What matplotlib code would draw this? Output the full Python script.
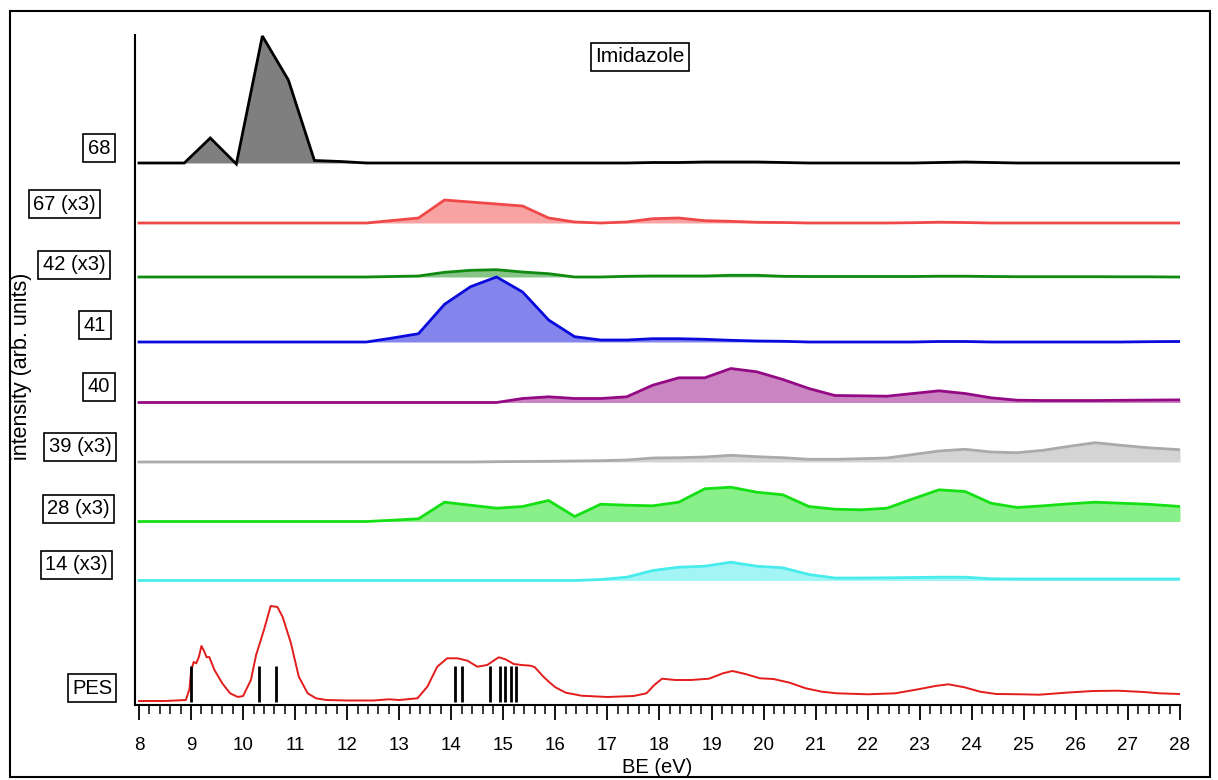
import numpy as np
import matplotlib
matplotlib.use("Agg")
import matplotlib.pyplot as plt
from matplotlib.patches import Rectangle
from matplotlib.ticker import MultipleLocator

plt.rcParams['font.family'] = ['Liberation Sans', 'DejaVu Sans']

# energy grid of the mass-selected yields (eV)
energy = [8.0, 8.87, 9.37, 9.87, 10.37, 10.87, 11.37, 11.87, 12.37, 12.87,
          13.37, 13.87, 14.37, 14.87, 15.37, 15.87, 16.37, 16.87, 17.37, 17.87,
          18.37, 18.87, 19.37, 19.87, 20.37, 20.87, 21.37, 21.87, 22.37, 22.87,
          23.37, 23.87, 24.37, 24.87, 25.37, 25.87, 26.37, 26.87, 27.37, 27.87, 28.0]

y68 = [0, 0, 25, -1, 127, 83, 2.5, 1.5, 0, 0, 0, 0, 0, 0, 0, 0, 0, 0, 0, 0.5,
       0.5, 1, 1, 1, 0.5, 0, 0, 0, 0, 0, 0.5, 1, 0.5, 0, 0, 0, 0, 0, 0, 0, 0]
y67 = [0, 0, 0, 0, 0, 0, 0, 0, 0, 2.5, 5, 23, 21, 19, 17, 5, 1, 0, 1, 4.3,
       5, 2.3, 1.7, 0.7, 0.5, 0, 0, 0, 0, 0.3, 0.8, 0.5, 0, 0, 0, 0, 0, 0, 0, 0, 0]
y42 = [0, 0, 0, 0, 0, 0, 0, 0, 0, 0.5, 1, 4.7, 6.7, 7.3, 5, 3.3, 0, 0, 0.7, 1,
       1, 1, 1.7, 1.7, 0.7, 0.5, 0.5, 0.5, 0.5, 0.5, 0.8, 0.8, 0.5, 0.3, 0.3, 0.3,
       0.3, 0.2, 0.2, 0, 0]
y41 = [0, 0, 0, 0, 0, 0, 0, 0, 0, 4, 8.3, 37.7, 55.3, 65, 50, 22, 5.3, 2, 2, 3.3,
       3.3, 2.7, 1.7, 1, 0.7, 0, 0, 0, 0, 0, 0.5, 0.5, 0, 0, 0, 0, 0, 0, 0.3, 0.5, 0.5]
y40 = [0, 0, 0, 0, 0, 0, 0, 0, 0, 0, 0, 0, 0, 0, 4, 5.7, 4, 4, 5.7, 17.3,
       24.7, 24.7, 34, 30.7, 23, 14, 7, 6.7, 6.3, 9, 11.7, 9, 4.7, 2.3, 2, 2,
       2, 2.2, 2.4, 2.6, 2.6]
y39 = [0, 0, 0, 0, 0, 0, 0, 0, 0, 0, 0, 0, 0, 0.3, 0.5, 0.7, 1, 1.3, 2, 4,
       4.3, 5, 6.7, 5.3, 4.3, 2.7, 2.7, 3.3, 4, 7.5, 11, 12.7, 10, 9.3, 11.7, 15.7,
       19.3, 16.7, 14.3, 12.7, 12.3]
y28 = [0, 0, 0, 0, 0, 0, 0, 0, 0, 1.3, 2.7, 19.3, 16.3, 13.3, 15, 21, 5, 17.3, 16.3, 15.7,
       19.3, 32.7, 34.3, 29.3, 26.7, 15, 12.3, 11.7, 13.3, 22.7, 31.7, 30, 18.3, 14, 15.7, 17.7,
       19.3, 18.3, 17.3, 15.5, 15]
y14 = [0, 0, 0, 0, 0, 0, 0, 0, 0, 0, 0, 0, 0, 0, 0, 0, 0, 1, 3.3, 10,
       13.3, 14.3, 18.3, 14.3, 12.7, 6, 2.5, 2.5, 2.7, 3, 3.3, 3.3, 1.7, 1.5, 1.5, 1.5,
       1.5, 1.5, 1.5, 1.5, 1.5]

# photoelectron spectrum
pes_e = [8.0, 8.5, 8.9, 8.97, 9.0, 9.05, 9.1, 9.15, 9.2, 9.25, 9.3, 9.35, 9.45, 9.6,
         9.75, 9.9, 10.0, 10.15, 10.25, 10.4, 10.53, 10.66, 10.76, 10.92, 11.07, 11.24,
         11.4, 11.6, 12.0, 12.5, 12.8, 13.0, 13.35, 13.54, 13.73, 13.92, 14.12, 14.31,
         14.5, 14.69, 14.91, 15.04, 15.2, 15.35, 15.52, 15.6, 15.77, 15.9, 16.0, 16.2,
         16.5, 17.0, 17.5, 17.75, 17.9, 18.05, 18.3, 18.6, 18.95, 19.22, 19.4, 19.65,
         19.93, 20.19, 20.5, 20.81, 21.12, 21.4, 22.0, 22.53, 22.97, 23.3, 23.55, 23.86,
         24.16, 24.47, 24.96, 25.3, 25.8, 26.33, 26.81, 27.3, 27.6, 28.0]
pes_i = [0, 0, 1, 12, 30, 39, 37.7, 44, 55, 50, 43.7, 44, 31, 17.7,
         7.7, 4, 5, 21, 46, 71, 95, 94, 84, 57.7, 24.3, 7.7,
         2.7, 1, 0.5, 0.5, 1.7, 1, 2.7, 14.3, 34.3, 42.7, 42.7, 40.3,
         34.3, 36, 43.7, 41.7, 37, 36, 35.3, 34, 24.3, 18, 13.7, 8.3,
         5.3, 4, 5, 7.7, 16, 22.3, 21, 21, 22.3, 27.7, 30, 27,
         22.7, 22, 18.3, 12.7, 9.3, 7.7, 6.7, 7.7, 11.7, 15, 16.7, 13.7,
         9.3, 7, 6.7, 6.3, 8.3, 10, 10.3, 9, 7.7, 7]
sticks = [9.0, 10.31, 10.63, 14.07, 14.21, 14.74, 14.93, 15.04, 15.15, 15.25]

labels = ['68', '67 (x3)', '42 (x3)', '41', '40', '39 (x3)', '28 (x3)', '14 (x3)']
series = [y68, y67, y42, y41, y40, y39, y28, y14]
colors = ['#000000', '#f04848', '#108a10', '#0a0add', '#940a84', '#aaaaaa', '#14e014', '#48ecec']
offsets = [542, 482, 428, 363, 302.5, 243, 183.5, 124.5]

W, H = 1218, 780
fig = plt.figure(figsize=(W / 100, H / 100), dpi=100)
ax = fig.add_axes([134.5 / W, 75 / H, 1045.5 / W, 670 / H])

x = np.array(energy)
for vals, col, off in zip(series, colors, offsets):
    v = np.array(vals) + off
    ax.fill_between(x, off, v, color=col, alpha=0.5, lw=0)
    ax.plot(x, v, color=col, lw=2, solid_joinstyle='miter')

pes_off = 4
ax.plot(pes_e, np.array(pes_i) + pes_off, color='#e31c1c', lw=1.4)
ax.vlines(sticks, pes_off - 1, pes_off + 35, color='black', lw=2)

ax.set_xlim(8 - 4.5 / 52.1, 28)
ax.set_ylim(0, 670)
ax.spines['top'].set_visible(False)
ax.spines['right'].set_visible(False)
ax.spines['left'].set_linewidth(1.5)
ax.spines['bottom'].set_linewidth(1.5)
ax.set_yticks([])
ax.xaxis.set_major_locator(MultipleLocator(1))
ax.xaxis.set_minor_locator(MultipleLocator(0.2))
ax.tick_params(axis='x', which='major', direction='out', length=11, width=1.3, pad=12, labelsize=13.5)
ax.tick_params(axis='x', which='minor', direction='out', length=6.5, width=1.1)
ax.set_xlabel('BE (eV)', fontsize=14.5, labelpad=3)

# boxed trace labels
box = dict(boxstyle='square,pad=0.22', fc='white', ec='black', lw=1.2)
label_pos = [(99, 148), (64.5, 204), (74, 265), (95, 325), (99, 387),
             (80, 447), (78.5, 509), (76.5, 565)]
for txt, (px, py) in zip(labels, label_pos):
    fig.text(px / W, 1 - py / H, txt, ha='center', va='center', fontsize=14.5, bbox=box)
fig.text(92 / W, 1 - 688 / H, 'PES', ha='center', va='center', fontsize=14.5, bbox=box)

fig.text(640 / W, 1 - 57 / H, 'Imidazole', ha='center', va='center', fontsize=15, bbox=box)
fig.text(22 / W, 1 - 366 / H, 'intensity (arb. units)', rotation=90,
         ha='center', va='center', fontsize=15.5)

# outer frame
fig.patches.append(Rectangle((10 / W, 3 / H), 1200 / W, 766 / H, transform=fig.transFigure,
                             fill=False, ec='black', lw=1.5))

fig.savefig('out.png', dpi=100)
